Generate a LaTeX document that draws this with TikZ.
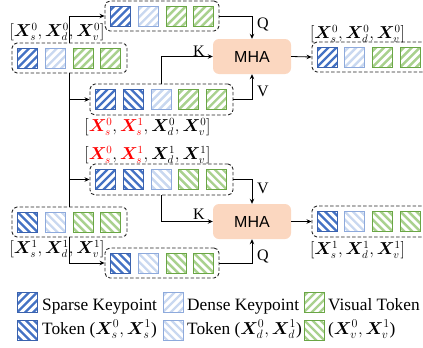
\documentclass[tikz,border=0pt]{standalone}
\usepackage{fontspec}
\setmainfont{Liberation Serif}
\newfontfamily\mhafont{Liberation Sans}
\usepackage{amsmath,bm}
\usetikzlibrary{arrows.meta,calc}
\definecolor{dks}{HTML}{4472C4}
\definecolor{dkb}{HTML}{3A62AE}
\definecolor{lts}{HTML}{C9D8F0}
\definecolor{ltb}{HTML}{8EAADC}
\definecolor{grs}{HTML}{A9D18E}
\definecolor{grb}{HTML}{6AA645}
\definecolor{mhafill}{HTML}{FBD7C0}
\newcommand\tok[4]{%
  \begin{scope}
    \clip ({#1-10},{#2-10}) rectangle ({#1+10},{#2+10});
    \foreach \k in {-3,...,3}{
      \draw[line width=2.4pt,#3s] ({#1+\k*8-15},{#2+15*(#4)}) -- ({#1+\k*8+15},{#2-15*(#4)});
    }
  \end{scope}
  \draw[#3b,line width=0.9pt] ({#1-10},{#2-10}) rectangle ({#1+10},{#2+10});
}
\newcommand\tokrow[3]{% x0, y, list of type/dir
  \foreach \t/\d [count=\i from 0] in {#3}{
    \tok{#1+\i*27.8}{#2}{\t}{\d}
  }
}
\tikzset{
  cont/.style={draw=black!85,dash pattern=on 3.5pt off 2pt,line width=0.9pt,rounded corners=5pt,inner sep=0pt},
  mha/.style={fill=mhafill,rounded corners=6pt,minimum width=78pt,minimum height=35pt,font=\mhafont\fontsize{16}{18}\selectfont},
  arr/.style={line width=0.8pt,-{Stealth[length=5pt,width=4.5pt]}},
  ln/.style={line width=0.8pt},
  lab/.style={font=\fontsize{16}{19}\selectfont,inner sep=0pt},
  kqv/.style={font=\fontsize{16}{18}\selectfont,inner sep=0pt},
  leg/.style={font=\fontsize{17.3}{20}\selectfont,inner sep=0pt,anchor=base west}
}
\begin{document}
\begin{tikzpicture}[x=1pt,y=-1pt]
\useasboundingbox (0,0) rectangle (423,348);
% containers
\node[cont,minimum width=114pt,minimum height=30pt] (A) at (162,16) {};
\node[cont,minimum width=115pt,minimum height=30pt] (B) at (69.5,58) {};
\node[cont,minimum width=143pt,minimum height=31pt] (C) at (161.5,99.5) {};
\node[cont,minimum width=143pt,minimum height=31pt] (D) at (161.5,179.5) {};
\node[cont,minimum width=115pt,minimum height=30pt] (E) at (69.5,222) {};
\node[cont,minimum width=114pt,minimum height=30pt] (F) at (162,263) {};
\node[cont,minimum width=120pt,minimum height=30pt] (G) at (372,57) {};
\node[cont,minimum width=120pt,minimum height=31pt] (H) at (372,221.5) {};
% tokens
\tokrow{120.5}{16}{dk/1,lt/1,gr/1,gr/1}
\tokrow{27.5}{58}{dk/1,lt/1,gr/1,gr/1}
\tokrow{105.5}{99.5}{dk/1,dk/-1,lt/1,gr/1,gr/1}
\tokrow{105.5}{179.5}{dk/1,dk/-1,lt/-1,gr/-1,gr/-1}
\tokrow{27.5}{222}{dk/-1,lt/-1,gr/-1,gr/-1}
\tokrow{120.5}{263}{dk/-1,lt/-1,gr/-1,gr/-1}
\tokrow{327}{57}{dk/1,lt/1,gr/1,gr/1}
\tokrow{327}{221.5}{dk/-1,lt/-1,gr/-1,gr/-1}
% MHA
\node[mha] (M1) at (252,56.5) {MHA};
\node[mha] (M2) at (252,221.5) {MHA};
% connectors
\draw[ln] (B.south) -- (E.north);
\draw[arr] (B.north) |- (A.west);
\draw[arr] (B.south |- C.west) -- (C.west);
\draw[arr] (B.south |- D.west) -- (D.west);
\draw[arr] (E.south) |- (F.west);
\draw[arr] (A.east) -| (M1.north);
\draw[arr] (C.north) |- (M1.west);
\draw[arr] (C.east) -| (M1.south);
\draw[arr] (M1.east) -- (G.west);
\draw[arr] (D.south) |- (M2.west);
\draw[arr] (D.east) -| (M2.north);
\draw[arr] (F.east) -| (M2.south);
\draw[arr] (M2.east) -- (H.west);
% K Q V labels
\node[kqv] (q1) at (263,24) {Q};
\node[kqv] (k1) at (199,51) {K};
\node[kqv] (v1) at (263,91) {V};
\node[kqv] (v2) at (263,188) {V};
\node[kqv] (k2) at (199,214) {K};
\node[kqv] (q2) at (263,256) {Q};
% math labels
\node[lab] (LA) at (57,32) {$[\bm X^0_s,\bm X^0_d,\bm X^0_v]$};
\node[lab] (LG) at (357.5,34) {$[\bm X^0_s,\bm X^0_d,\bm X^0_v]$};
\node[lab] (LC) at (147.5,127) {$[\textcolor{red}{\bm X^0_s},\textcolor{red}{\bm X^1_s},\bm X^0_d,\bm X^0_v]$};
\node[lab] (LD) at (147.5,155) {$[\textcolor{red}{\bm X^0_s},\textcolor{red}{\bm X^1_s},\bm X^1_d,\bm X^1_v]$};
\node[lab] (LE) at (57,249) {$[\bm X^1_s,\bm X^1_d,\bm X^1_v]$};
\node[lab] (LH) at (357.5,250) {$[\bm X^1_s,\bm X^1_d,\bm X^1_v]$};
% legend
\tok{27.5}{302}{dk}{1}
\tok{173}{302}{lt}{1}
\tok{314}{302}{gr}{1}
\tok{27.5}{330}{dk}{-1}
\tok{173}{330}{lt}{-1}
\tok{314}{330}{gr}{-1}
\node[leg] (t1) at (42,310) {Sparse Keypoint};
\node[leg] (t2) at (187,310) {Dense Keypoint};
\node[leg] (t3) at (328,310) {Visual Token};
\node[leg] (t4) at (42,334) {Token ($\bm X^0_s,\bm X^1_s$)};
\node[leg] (t5) at (187,334) {Token ($\bm X^0_d,\bm X^1_d$)};
\node[leg] (t6) at (328,334) {($\bm X^0_v,\bm X^1_v$)};
\end{tikzpicture}
\end{document}
